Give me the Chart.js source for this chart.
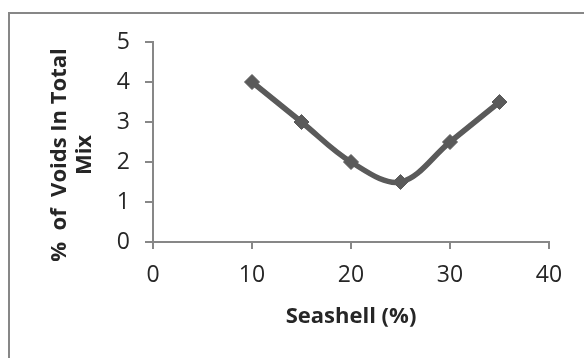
<!DOCTYPE html>
<html>
<head>
<meta charset="utf-8">
<script src="https://cdn.jsdelivr.net/npm/chart.js@4"></script>
<style>
  html, body { margin: 0; padding: 0; background: #fff; overflow: hidden; }
  #wrap { width: 584px; height: 358px; position: relative; }
</style>
</head>
<body>
<div id="wrap"><canvas id="chart" width="584" height="358"></canvas></div>
<script>
// data
var seashell = [10, 15, 20, 25, 30, 35];
var voids = [4, 3, 2, 1.5, 2.5, 3.5];
var xTitle = 'Seashell (%)';
var yTitle = ['%  of  Voids In Total', 'Mix'];

var axisGray = '#878787';
var textColor = '#262626';

var points = seashell.map(function (x, i) { return { x: x, y: voids[i] }; });

// frame round the whole chart + rotated y title
var extras = {
  id: 'extras',
  beforeDraw: function (chart) {
    var ctx = chart.ctx;
    ctx.save();
    ctx.strokeStyle = axisGray;
    ctx.lineWidth = 2;
    ctx.strokeRect(9, 13, 640, 400);
    ctx.restore();
  },
  afterDraw: function (chart) {
    var ctx = chart.ctx;
    ctx.save();
    ctx.fillStyle = textColor;
    ctx.font = 'bold 22px "Open Sans"';
    ctx.textAlign = 'center';
    ctx.textBaseline = 'middle';
    ctx.translate(60, 155);
    ctx.rotate(-Math.PI / 2);
    ctx.fillText(yTitle[0], 0, 0);
    ctx.fillText(yTitle[1], 0, 25);
    ctx.restore();
  }
};

new Chart(document.getElementById('chart'), {
  type: 'scatter',
  data: {
    datasets: [{
      data: points,
      showLine: true,
      borderColor: '#5a5a5a',
      borderWidth: 5.5,
      tension: 0.35,
      pointStyle: 'rectRot',
      pointRadius: 7.5,
      pointBackgroundColor: '#5a5a5a',
      pointBorderColor: '#5a5a5a',
      pointBorderWidth: 1
    }]
  },
  options: {
    responsive: false,
    animation: false,
    events: [],
    layout: { padding: { left: 0, right: 35, top: 42, bottom: 0 } },
    plugins: { legend: { display: false }, tooltip: { enabled: false } },
    scales: {
      x: {
        type: 'linear',
        min: 0,
        max: 40,
        ticks: { stepSize: 10, color: textColor, font: { family: 'Open Sans', size: 23 }, padding: 13 },
        grid: { drawOnChartArea: false, drawTicks: true, tickLength: 7, color: axisGray, lineWidth: 2 },
        border: { color: axisGray, width: 2 },
        title: { display: true, text: xTitle, color: textColor, font: { family: 'Open Sans', size: 22, weight: 'bold' }, padding: { top: 0, bottom: 28 } },
        afterFit: function (scale) { scale.height = 116; }
      },
      y: {
        min: 0,
        max: 5,
        ticks: { stepSize: 1, color: textColor, font: { family: 'Open Sans', size: 23 }, padding: 15 },
        grid: { drawOnChartArea: false, drawTicks: true, tickLength: 8, color: axisGray, lineWidth: 2 },
        border: { color: axisGray, width: 2 },
        afterFit: function (scale) { scale.width = 153; }
      }
    }
  },
  plugins: [extras]
});
</script>
</body>
</html>
